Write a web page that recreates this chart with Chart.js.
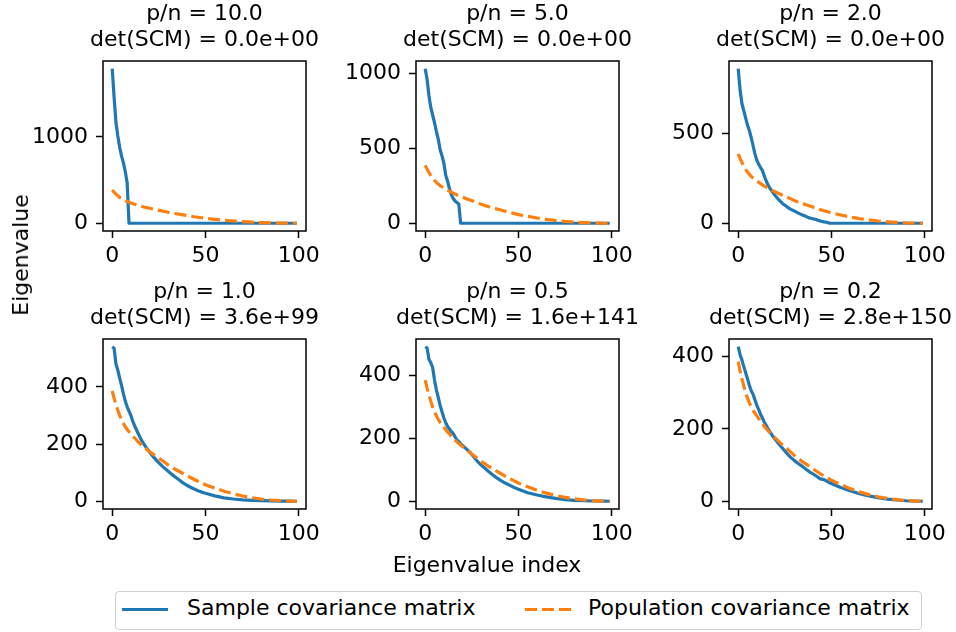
<!DOCTYPE html>
<html>
<head>
<meta charset="utf-8">
<script src="https://cdn.jsdelivr.net/npm/chart.js@4.4.1/dist/chart.umd.min.js"></script>
<style>
    html, body { margin: 0; padding: 0; background: #fff; overflow: hidden; }
    body { position: relative; width: 956px; height: 632px; font-family: "DejaVu Sans", sans-serif; color: #000; }
    canvas { position: absolute; }
    .txt { position: absolute; font-size: 22px; line-height: 22px; white-space: nowrap; }
    #ylab { left: 21px; top: 255px; transform: translate(-50%, -50%) rotate(-90deg); }
    #xlab { left: 487px; top: 554px; transform: translateX(-50%); }
    #legend { position: absolute; left: 115px; top: 591px; width: 805px; height: 37px; border: 1px solid #cfcfcf; border-radius: 4px; }
    .swatch { position: absolute; top: 607.5px; width: 46px; height: 3.2px; }
    #sw-sample { left: 122px; background: #1f77b4; }
    #sw-pop { left: 525px; background: repeating-linear-gradient(to right, #ff7f0e 0 12px, transparent 12px 17px); }
</style>
</head>
<body>
<canvas id="c0" width="393" height="271" style="left:8px;top:0px"></canvas>
<canvas id="c1" width="393" height="271" style="left:321px;top:0px"></canvas>
<canvas id="c2" width="393" height="271" style="left:634px;top:0px"></canvas>
<canvas id="c3" width="393" height="271" style="left:8px;top:278px"></canvas>
<canvas id="c4" width="393" height="271" style="left:321px;top:278px"></canvas>
<canvas id="c5" width="393" height="271" style="left:634px;top:278px"></canvas>

<div class="txt" id="ylab">Eigenvalue</div>
<div class="txt" id="xlab">Eigenvalue index</div>

<div id="legend"></div>
<div class="swatch" id="sw-sample"></div>
<div class="txt" style="left:187px;top:597px">Sample covariance matrix</div>
<div class="swatch" id="sw-pop"></div>
<div class="txt" style="left:588px;top:597px">Population covariance matrix</div>

<script>
// eigenvalue index (x) where values were read
const idx = [0, 1, 2, 3, 4, 5, 6, 7, 8, 9, 10, 11, 12, 13, 14, 15, 16, 17, 18, 19, 20,
    22, 24, 26, 28, 30, 32, 34, 36, 38, 40, 42, 44, 46, 48, 49, 50,
    55, 60, 65, 70, 75, 80, 85, 90, 95, 99];

// population covariance eigenvalues (same in every panel)
const pop = [386, 360, 338, 318, 300, 285, 272, 261, 251, 243, 236, 228, 221, 214, 207, 201, 195, 189, 184, 179, 174,
    164, 155, 146, 137, 127, 119, 111, 104, 97, 90, 83, 76, 70, 64, 61, 58,
    46, 35, 26, 18.5, 12.5, 8, 4.5, 2, 0.7, 0];

// sample covariance eigenvalues, one array per p/n
const s10 = [1790, 1460, 1170, 1010, 880, 780, 700, 600, 470, 0, 0, 0, 0, 0, 0, 0, 0, 0, 0, 0, 0,
    0, 0, 0, 0, 0, 0, 0, 0, 0, 0, 0, 0, 0, 0, 0, 0,
    0, 0, 0, 0, 0, 0, 0, 0, 0, 0];
const s5 = [1030, 960, 850, 770, 720, 670, 610, 560, 490, 450, 400, 320, 280, 230, 190, 165, 148, 138, 128, 0, 0,
    0, 0, 0, 0, 0, 0, 0, 0, 0, 0, 0, 0, 0, 0, 0, 0,
    0, 0, 0, 0, 0, 0, 0, 0, 0, 0];
const s2 = [860, 740, 665, 625, 585, 545, 515, 475, 430, 385, 350, 328, 310, 293, 262, 235, 213, 195, 180, 165, 152,
    128, 108, 93, 79, 69, 58, 48, 40, 30, 25, 20, 13, 8, 4, 0, 0,
    0, 0, 0, 0, 0, 0, 0, 0, 0, 0];
const s1 = [540, 535, 480, 458, 430, 405, 375, 350, 330, 315, 300, 280, 264, 250, 236, 222, 210, 200, 190, 181, 172,
    156, 141, 128, 116, 105, 94, 84, 74, 64, 56, 49, 43, 37, 32, 30, 28,
    19, 12, 8, 5, 3.4, 2.1, 1.2, 0.6, 0.2, 0];
const s05 = [492, 488, 452, 441, 425, 385, 355, 330, 305, 285, 265, 250, 238, 230, 222, 216, 205, 195, 190, 183, 178,
    167, 156, 142, 127, 115, 105, 95, 85, 76, 68, 61, 55, 49, 43, 41, 38,
    27, 20, 14, 9, 5.5, 3, 1.6, 0.8, 0.3, 0];
const s02 = [427, 405, 390, 372, 355, 338, 320, 305, 295, 280, 265, 253, 240, 230, 218, 210, 200, 192, 184, 177, 170,
    157, 145, 133, 122, 113, 105, 98, 90, 82, 76, 69, 62, 60, 54, 51, 49,
    38, 29, 21, 15, 10, 6, 3.5, 1.5, 0.5, 0];

const samples = [s10, s5, s2, s1, s05, s02];
const titles = [
    ['p/n = 10.0', 'det(SCM) = 0.0e+00'],
    ['p/n = 5.0', 'det(SCM) = 0.0e+00'],
    ['p/n = 2.0', 'det(SCM) = 0.0e+00'],
    ['p/n = 1.0', 'det(SCM) = 3.6e+99'],
    ['p/n = 0.5', 'det(SCM) = 1.6e+141'],
    ['p/n = 0.2', 'det(SCM) = 2.8e+150']
];
const xTicks = [0, 50, 100];
const yTicks = [
    [0, 1000],
    [0, 500, 1000],
    [0, 500],
    [0, 200, 400],
    [0, 200, 400],
    [0, 200, 400]
];

const BLUE = '#1f77b4';
const ORANGE = '#ff7f0e';

Chart.defaults.font.family = '"DejaVu Sans", sans-serif';
Chart.defaults.font.size = 22;
Chart.defaults.color = '#000';

// matplotlib style box around the plot area
const frame = {
    id: 'frame',
    afterDatasetsDraw(chart) {
        const { ctx, chartArea: a } = chart;
        ctx.save();
        ctx.strokeStyle = '#000';
        ctx.lineWidth = 1.5;
        ctx.strokeRect(a.left, a.top, a.right - a.left, a.bottom - a.top);
        ctx.restore();
    }
};

const tickGrid = { drawOnChartArea: false, drawTicks: true, tickLength: 7, tickWidth: 1.5, tickColor: '#000' };

function makePanel(k) {
    const ys = samples[k];
    const hi = Math.max(...ys, ...pop);
    new Chart(document.getElementById('c' + k), {
        type: 'line',
        data: {
            datasets: [
                {
                    label: 'Sample covariance matrix',
                    data: idx.map((x, i) => ({ x, y: ys[i] })),
                    borderColor: BLUE,
                    borderWidth: 3.2,
                    borderJoinStyle: 'round',
                    pointRadius: 0,
                    order: 2
                },
                {
                    label: 'Population covariance matrix',
                    data: idx.map((x, i) => ({ x, y: pop[i] })),
                    borderColor: ORANGE,
                    borderWidth: 3.2,
                    borderDash: [12, 5],
                    pointRadius: 0,
                    order: 1
                }
            ]
        },
        options: {
            responsive: false,
            animation: false,
            events: [],
            layout: { padding: 0 },
            plugins: {
                legend: { display: false },
                tooltip: { enabled: false },
                title: {
                    display: true,
                    text: titles[k],
                    color: '#000',
                    font: { size: 22, weight: 'normal', lineHeight: '26px' },
                    padding: { top: 1, bottom: 8 }
                }
            },
            scales: {
                x: {
                    type: 'linear',
                    min: -4.95,
                    max: 103.95,
                    grid: tickGrid,
                    border: { display: false },
                    ticks: {
                        maxRotation: 0,
                        padding: 5,
                        color: '#000',
                        callback: v => String(v)
                    },
                    afterBuildTicks: s => { s.ticks = xTicks.map(v => ({ value: v })); },
                    afterFit: s => { s.height = 40; }
                },
                y: {
                    type: 'linear',
                    min: -0.05 * hi,
                    max: 1.05 * hi,
                    grid: tickGrid,
                    border: { display: false },
                    ticks: {
                        padding: 8,
                        color: '#000',
                        callback: v => String(v)
                    },
                    afterBuildTicks: s => { s.ticks = yTicks[k].map(v => ({ value: v })); },
                    afterFit: s => { s.width = 95; }
                },
                // empty right axis keeps the title centred over the plot
                yr: {
                    position: 'right',
                    grid: { display: false },
                    border: { display: false },
                    ticks: { display: false },
                    afterFit: s => { s.width = 95; }
                }
            }
        },
        plugins: [frame]
    });
}

for (let k = 0; k < 6; k++) makePanel(k);
</script>
</body>
</html>
